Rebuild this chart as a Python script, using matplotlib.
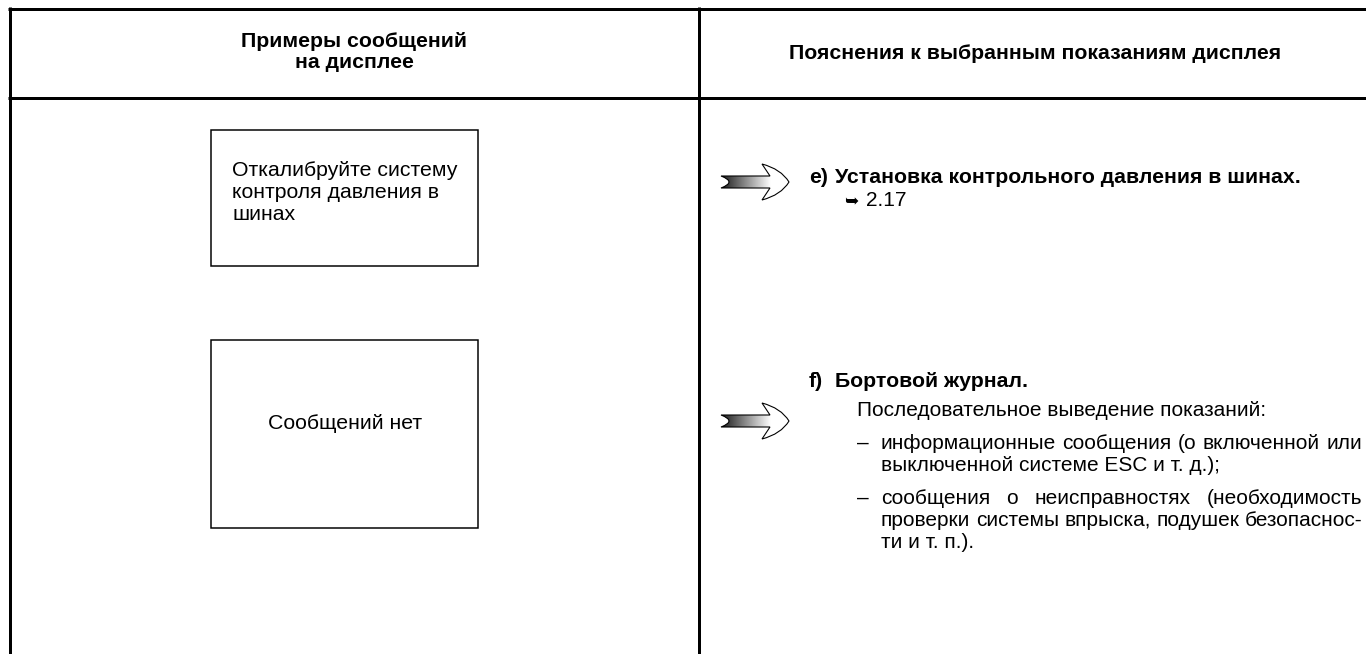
import numpy as np
import matplotlib
matplotlib.use('Agg')
import matplotlib.pyplot as plt
from matplotlib.path import Path
from matplotlib.patches import PathPatch, Rectangle

W, H = 1366, 654
DPI = 72

# ---- content -------------------------------------------------------
header_left = ['Примеры сообщений', 'на дисплее']
header_right = 'Пояснения к выбранным показаниям дисплея'
display_msgs = [['Откалибруйте систему', 'контроля давления в', 'шинах'],
                ['Сообщений нет']]
item_labels = ['e)', 'f)']
item_titles = ['Установка контрольного давления в шинах.', 'Бортовой журнал.']
ref_mark = '➥'
ref_page = '2.17'
f_intro = 'Последовательное выведение показаний:'
f_bullets = [
    ['информационные сообщения (о включенной или',
     'выключенной системе ESC и т. д.);'],
    ['сообщения о неисправностях (необходимость',
     'проверки системы впрыска, подушек безопаснос-',
     'ти и т. п.).'],
]

plt.rcParams['font.family'] = ['Liberation Sans', 'DejaVu Sans']
FS = 21.3      # headers, display boxes, titles
FS_BODY = 20.9  # explanation text


def put_line(ax, s, x0, y, right=None, fs=FS, **kw):
    # plain left aligned line, or justified to `right`
    if right is None:
        return ax.text(x0, y, s, ha='left', va='baseline', fontsize=fs, **kw)
    words = s.split(' ')
    r = ax.figure.canvas.get_renderer()
    ts = [ax.text(0, y, w, ha='left', va='baseline', fontsize=fs, **kw) for w in words]
    ws = [t.get_window_extent(r).width for t in ts]
    gap = (right - x0 - sum(ws)) / (len(words) - 1)
    x = x0
    for t, w in zip(ts, ws):
        t.set_x(x)
        x += w + gap


def draw_arrow(ax, x0, yc):
    # shaft with notch + hollow head, y grows downwards
    pts = [(0, -6), (49, -6), (41, -18), (60, -13), (68, 0), (60, 13), (41, 18),
           (49, 6), (0, 6), (16, 0), (0, -6), (0, -6)]
    codes = [Path.MOVETO, Path.LINETO, Path.LINETO, Path.CURVE3, Path.CURVE3,
             Path.CURVE3, Path.CURVE3, Path.LINETO, Path.LINETO, Path.CURVE3,
             Path.CURVE3, Path.CLOSEPOLY]
    verts = [(x0 + px, yc + py) for px, py in pts]
    path = Path(verts, codes)
    ax.add_patch(PathPatch(path, facecolor='white', edgecolor='none', zorder=2))
    grad = np.linspace(0.1, 1.0, 200)[None, :]
    im = ax.imshow(grad, extent=(x0, x0 + 50, yc + 6, yc - 6), cmap='gray',
                   vmin=0, vmax=1, aspect='auto', interpolation='bilinear', zorder=3)
    clip = PathPatch(path, transform=ax.transData)
    im.set_clip_path(clip)
    ax.add_patch(PathPatch(path, facecolor='none', edgecolor='black', lw=1.1, zorder=4))


fig = plt.figure(figsize=(W / DPI, H / DPI), dpi=DPI)
ax = fig.add_axes([0, 0, 1, 1])
ax.set_xlim(0, W)
ax.set_ylim(H, 0)
ax.axis('off')

# table frame
lw = 3
ax.plot([8, W], [8.5, 8.5], color='black', lw=lw, solid_capstyle='butt')
ax.plot([8, W], [98, 98], color='black', lw=lw, solid_capstyle='butt')
ax.plot([9.5, 9.5], [7, H], color='black', lw=lw, solid_capstyle='butt')
ax.plot([698.5, 698.5], [7, H], color='black', lw=lw, solid_capstyle='butt')

# headers
for line, y in zip(header_left, [47, 68]):
    ax.text(354, y, line, ha='center', va='baseline', fontsize=FS, fontweight='bold')
ax.text(1035, 59, header_right, ha='center', va='baseline', fontsize=FS, fontweight='bold')

# display boxes
ax.add_patch(Rectangle((211, 130), 267, 136, fill=False, lw=1.5))
ax.add_patch(Rectangle((211, 340), 267, 188, fill=False, lw=1.5))
for line, y in zip(display_msgs[0], [176, 198, 220]):
    put_line(ax, line, 232, y)
ax.text(345, 429, display_msgs[1][0], ha='center', va='baseline', fontsize=FS)

# arrows
draw_arrow(ax, 721, 182)
draw_arrow(ax, 721, 421)

# right column
RIGHT = 1362
ax.text(809, 183, item_labels[0], ha='left', va='baseline', fontsize=FS, fontweight='bold')
ax.text(835, 183, item_titles[0], ha='left', va='baseline', fontsize=FS, fontweight='bold')
ax.text(844, 206, ref_mark, ha='left', va='baseline', fontsize=17, family=['DejaVu Sans'])
ax.text(866, 206, ref_page, ha='left', va='baseline', fontsize=FS_BODY)

ax.text(809, 387, item_labels[1], ha='left', va='baseline', fontsize=FS, fontweight='bold')
ax.text(835, 387, item_titles[1], ha='left', va='baseline', fontsize=FS, fontweight='bold')
put_line(ax, f_intro, 857, 416, fs=FS_BODY)

ys = [[449, 471], [504, 526, 548]]
for lines, yl in zip(f_bullets, ys):
    ax.text(857, yl[0], '–', ha='left', va='baseline', fontsize=FS_BODY)
    for i, (line, y) in enumerate(zip(lines, yl)):
        last = i == len(lines) - 1
        put_line(ax, line, 881, y, right=None if last else RIGHT, fs=FS_BODY)

fig.savefig('out.png', dpi=DPI, facecolor='white')
